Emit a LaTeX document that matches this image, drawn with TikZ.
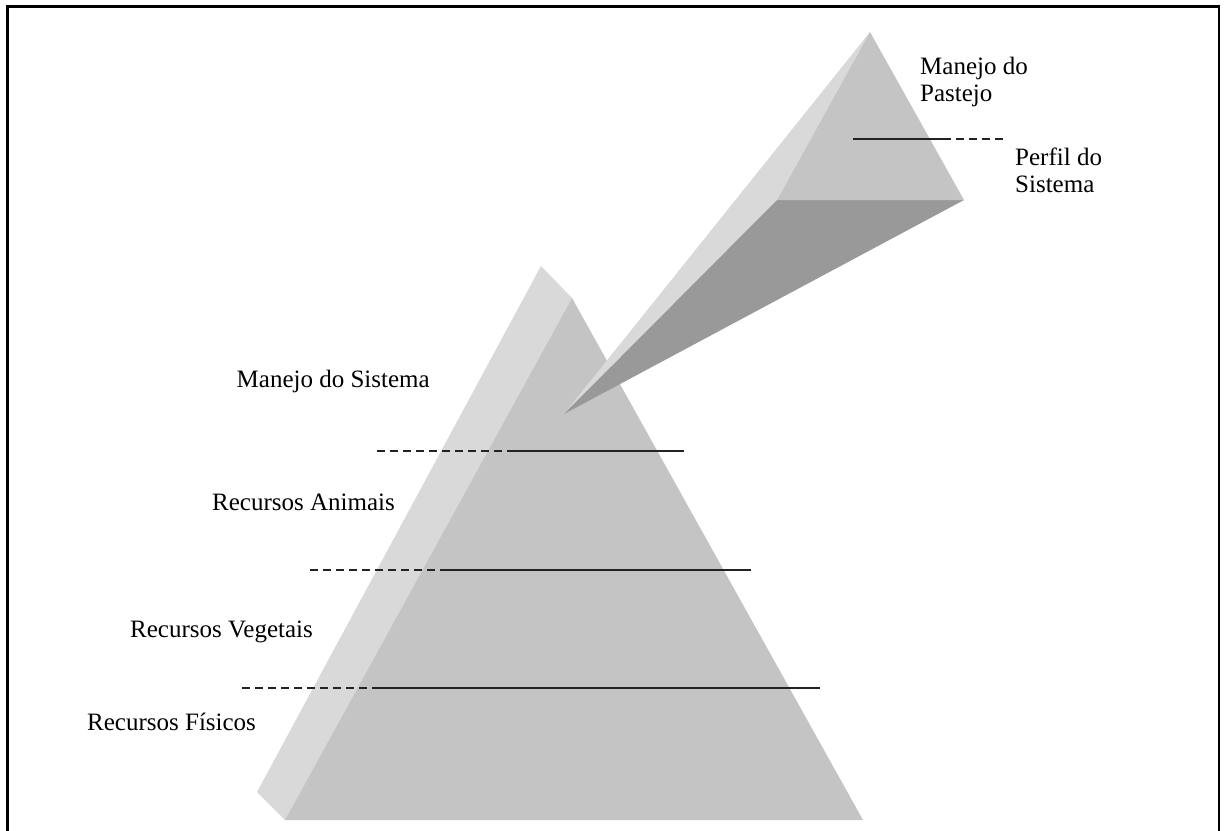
\documentclass[tikz,border=0pt]{standalone}
\usepackage{fontspec}
\setmainfont{Liberation Serif}
\definecolor{lightface}{HTML}{D9D9D9}
\definecolor{midface}{HTML}{C4C4C4}
\definecolor{darkface}{HTML}{999999}
\definecolor{rulecol}{HTML}{222222}
\tikzset{
  lbl/.style={anchor=base west, inner sep=0pt, font=\fontsize{25}{27}\selectfont},
  lbl2/.style={anchor=north west, inner sep=0pt, align=left, font=\fontsize{25}{27}\selectfont},
  solidrule/.style={draw=rulecol, line width=1.6pt},
  dashrule/.style={draw=rulecol, line width=1.6pt, dash pattern=on 8pt off 5pt},
  framel/.style={draw=black, line width=2.5pt}
}
\begin{document}
\begin{tikzpicture}[x=1pt,y=-1pt]
\useasboundingbox (0,0) rectangle (1225,830);
% frame
\draw[framel] (7.5,832) -- (7.5,6.5) -- (1219,6.5) -- (1219,832);
% main pyramid
\coordinate (backtop) at (541,266);
\coordinate (apex) at (572,298);
\coordinate (bl) at (285,820);
\coordinate (br) at (863,820);
\coordinate (sidebl) at (257,792);
\fill[lightface] (backtop) -- (apex) -- (bl) -- (sidebl) -- cycle;
\fill[midface] (apex) -- (bl) -- (br) -- cycle;
% small pyramid and beam
\coordinate (sapex) at (870,32);
\coordinate (sbl) at (777,200);
\coordinate (sbr) at (964,200);
\coordinate (tip) at (564,414);
\fill[lightface] (sapex) -- (sbl) -- (tip) -- cycle;
\fill[darkface] (sbl) -- (sbr) -- (tip) -- cycle;
\fill[midface] (sapex) -- (sbl) -- (sbr) -- cycle;
% level lines
\coordinate (l0a) at (853,139); \coordinate (l0b) at (943,139); \coordinate (l0c) at (1005,139);
\draw[solidrule] (l0a) -- (l0b);
\draw[dashrule] (l0b) -- (l0c);
\coordinate (l1a) at (377,451); \coordinate (l1b) at (513,451); \coordinate (l1c) at (684,451);
\draw[dashrule] (l1a) -- (l1b);
\draw[solidrule] (l1b) -- (l1c);
\coordinate (l2a) at (310,570); \coordinate (l2b) at (440,570); \coordinate (l2c) at (751,570);
\draw[dashrule] (l2a) -- (l2b);
\draw[solidrule] (l2b) -- (l2c);
\coordinate (l3a) at (242,688); \coordinate (l3b) at (372,688); \coordinate (l3c) at (820,688);
\draw[dashrule] (l3a) -- (l3b);
\draw[solidrule] (l3b) -- (l3c);
% labels
\node[lbl2] (pastejo) at (920,56.5) {Manejo do\\Pastejo};
\node[lbl2] (perfil) at (1015,147.5) {Perfil do\\Sistema};
\node[lbl] (msist) at (236.5,387) {Manejo do Sistema};
\node[lbl] (ranim) at (212,510) {Recursos Animais};
\node[lbl] (rveg) at (130,637) {Recursos Vegetais};
\node[lbl] (rfis) at (87,730) {Recursos Físicos};
\end{tikzpicture}
\end{document}
